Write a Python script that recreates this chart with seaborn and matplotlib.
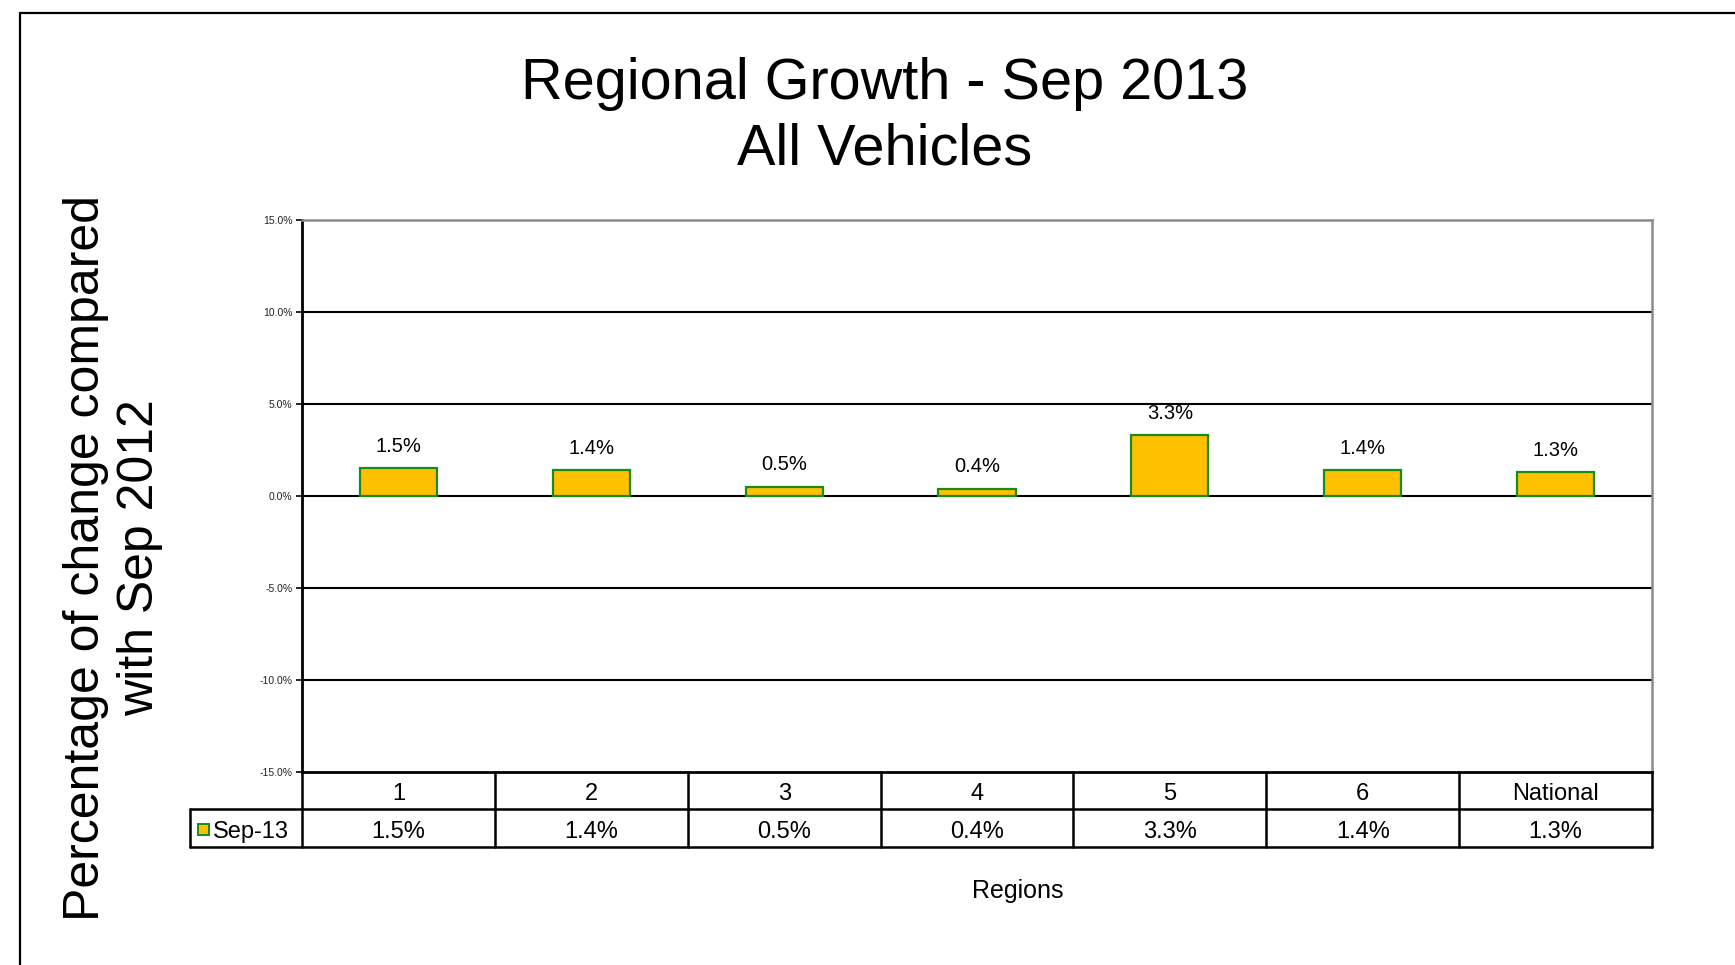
import matplotlib
matplotlib.use("Agg")
import matplotlib.pyplot as plt
import seaborn as sns
import numpy as np
from matplotlib.lines import Line2D
from matplotlib.patches import Rectangle
from matplotlib.ticker import FuncFormatter

regions = ["1", "2", "3", "4", "5", "6", "National"]
values = [1.5, 1.4, 0.5, 0.4, 3.3, 1.4, 1.3]
series_name = "Sep-13"
y_ticks = [-15, -10, -5, 0, 5, 10, 15]

sns.set_theme(style="white")
plt.rcParams['font.family'] = ['Liberation Sans', 'DejaVu Sans']
plt.rcParams['text.color'] = 'black'

W, H = 1735, 965
fig = plt.figure(figsize=(W / 100, H / 100), dpi=100)
fig.patch.set_facecolor("white")

def fx(px):
    return px / W

def fy(py):
    return 1 - py / H

ax_l, ax_r, ax_t, ax_b = 302, 1652, 220, 772
ax = fig.add_axes([fx(ax_l), fy(ax_b), fx(ax_r - ax_l), (ax_b - ax_t) / H])

sns.barplot(x=regions, y=values, color="#FFC000", saturation=1, width=0.4,
            edgecolor="#1A8A1A", linewidth=1.6, ax=ax, zorder=3)

ax.set_ylim(-15, 15)
ax.set_xlim(-0.5, len(regions) - 0.5)
ax.set_yticks(y_ticks)
ax.yaxis.set_major_formatter(FuncFormatter(lambda v, p: f"{v:.1f}%"))
ax.tick_params(axis="y", labelsize=7.5, labelcolor="#222222", color="black",
               length=4, width=1.2, direction="out", left=True, pad=3)
ax.set_xticks([])
ax.set_xlabel("")
ax.set_ylabel("")

for t in y_ticks[1:-1]:
    ax.axhline(t, color="black", lw=1.5, zorder=1)

ax.spines["left"].set_color("black")
ax.spines["left"].set_linewidth(2)
ax.spines["bottom"].set_color("black")
ax.spines["bottom"].set_linewidth(2)
ax.spines["top"].set_color("#8C8C8C")
ax.spines["top"].set_linewidth(1.8)
ax.spines["right"].set_color("#8C8C8C")
ax.spines["right"].set_linewidth(1.8)

ax.bar_label(ax.containers[0], labels=[f"{v:.1f}%" for v in values],
             padding=9, fontsize=14.5, color="black")

# data table below the axes
tr = ax.get_xaxis_transform()
ph = ax_b - ax_t
h1 = 37 / ph
h2 = 38 / ph
leg_left_px = 190
n = len(regions)
px_per_unit = (ax_r - ax_l) / n
leg_left = -0.5 - (ax_l - leg_left_px) / px_per_unit

lw_t = 1.8
for i in range(n + 1):
    xv = i - 0.5
    ax.add_line(Line2D([xv, xv], [0, -h1 - h2], transform=tr, color="black",
                       lw=lw_t, clip_on=False))
ax.add_line(Line2D([leg_left, leg_left], [-h1, -h1 - h2], transform=tr,
                   color="black", lw=lw_t, clip_on=False))
for yv in [-h1, -h1 - h2]:
    ax.add_line(Line2D([leg_left, n - 0.5], [yv, yv], transform=tr,
                       color="black", lw=lw_t, clip_on=False))

shift = 4 / ph
for i, (r, v) in enumerate(zip(regions, values)):
    ax.text(i, -h1 / 2 - shift, r, transform=tr, ha="center", va="center",
            fontsize=17, color="black")
    ax.text(i, -h1 - h2 / 2 - shift, f"{v:.1f}%", transform=tr, ha="center",
            va="center", fontsize=17, color="black")

# legend key in the table
key_x = leg_left + 8 / px_per_unit
ax.add_patch(Rectangle((key_x, -h1 - h2 / 2 - 6.5 / ph),
                       11 / px_per_unit, 11 / ph, transform=tr,
                       facecolor="#FFC000", edgecolor="#1A8A1A", lw=1.4,
                       clip_on=False))
ax.text(key_x + 15 / px_per_unit, -h1 - h2 / 2 - shift, series_name,
        transform=tr, ha="left", va="center", fontsize=17, color="black")

# titles and axis labels
fig.text(fx(885), fy(117), "Regional Growth - Sep 2013\nAll Vehicles",
         ha="center", va="center", fontsize=41.5, linespacing=1.27,
         color="black")
fig.text(fx(113), fy(558), "Percentage of change compared\nwith Sep 2012",
         ha="center", va="center", rotation=90, fontsize=36, linespacing=1.2,
         color="black")
fig.text(fx(1018), fy(891), "Regions", ha="center", va="center",
         fontsize=18, color="black")

# outer frame
fig.add_artist(Line2D([fx(20), fx(20)], [fy(13), 0], transform=fig.transFigure,
                      color="black", lw=1.6))
fig.add_artist(Line2D([fx(20), 1], [fy(13), fy(13)], transform=fig.transFigure,
                      color="black", lw=1.6))

fig.savefig("out.png", dpi=100, facecolor="white")
